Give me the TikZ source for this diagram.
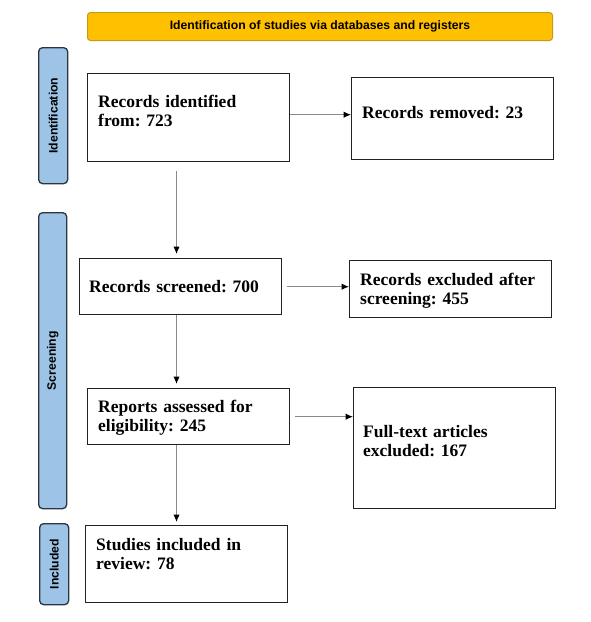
\documentclass[tikz,border=0pt]{standalone}
\usepackage{fontspec}
\setmainfont{Liberation Serif}
\setsansfont{Liberation Sans}
\usetikzlibrary{arrows.meta,positioning}
\definecolor{gold}{HTML}{FFC000}
\definecolor{goldedge}{HTML}{C49A1A}
\definecolor{sideblue}{HTML}{9DC3E6}
\definecolor{sideedge}{HTML}{2B3440}
\definecolor{boxedge}{HTML}{222222}
\definecolor{linegray}{HTML}{8A8A8A}
\frenchspacing
\begin{document}
\begin{tikzpicture}[x=1pt,y=-1pt,
  flowbox/.style={draw=boxedge,line width=1.4pt,fill=white,inner sep=0pt,anchor=north west},
  boxtext/.style={font=\bfseries\fontsize{17.5}{19.5}\selectfont,inner sep=0pt,anchor=base west,align=left,text width=#1},
  sidebox/.style={draw=sideedge,line width=1.3pt,fill=sideblue,rounded corners=4pt,inner sep=0pt,anchor=north west},
  sidetext/.style={font=\sffamily\bfseries\fontsize{12.2}{14}\selectfont,rotate=90,inner sep=0pt},
  arr/.style={draw=linegray,line width=1pt,-{Latex[color=black,length=7.5pt,width=6.5pt]}}
]
\useasboundingbox[fill=white] (0,0) rectangle (590,622);

% banner
\node[draw=goldedge,line width=1pt,fill=gold,rounded corners=3pt,anchor=north west,
      minimum width=465pt,minimum height=28pt,inner sep=0pt,
      font=\sffamily\bfseries\fontsize{12.2}{14}\selectfont] (banner) at (87,12)
      {Identification of studies via databases and registers};

% side labels
\node[sidebox,minimum width=29pt,minimum height=136pt] (sid) at (38,47) {};
\node[sidetext] (sidt) at (sid.center) {Identification};
\node[sidebox,minimum width=28pt,minimum height=296pt] (ssc) at (38,212) {};
\node[sidetext] (ssct) at (ssc.center) {Screening};
\node[sidebox,minimum width=29pt,minimum height=81pt] (sin) at (39,523) {};
\node[sidetext] (sint) at (sin.center) {Included};

% boxes
\node[flowbox,minimum width=202pt,minimum height=88pt] (b1) at (87,73) {};
\node[boxtext=185pt] (b1t) at (98,107) {Records identified\\from: 723};

\node[flowbox,minimum width=202pt,minimum height=82pt] (b2) at (351,77) {};
\node[boxtext=185pt] (b2t) at (362,118) {Records removed: 23};

\node[flowbox,minimum width=202pt,minimum height=56pt] (b3) at (79,258) {};
\node[boxtext=185pt] (b3t) at (89,292) {Records screened: 700};

\node[flowbox,minimum width=202pt,minimum height=57pt] (b5) at (349,260) {};
\node[boxtext=190pt] (b5t) at (360,285) {Records excluded after\\screening: 455};

\node[flowbox,minimum width=202pt,minimum height=56pt] (b4) at (87,388) {};
\node[boxtext=190pt] (b4t) at (98,412) {Reports assessed for\\eligibility: 245};

\node[flowbox,minimum width=202pt,minimum height=121pt] (b6) at (353,387) {};
\node[boxtext=185pt] (b6t) at (363,437) {Full-text articles\\excluded: 167};

\node[flowbox,minimum width=202pt,minimum height=77pt] (b7) at (85,525) {};
\node[boxtext=185pt] (b7t) at (96,550) {Studies included in\\review: 78};

% connectors
\coordinate (vx) at (176.5,0);
\draw[arr] ([yshift=3pt]b1.east) -- ([yshift=3pt]b1.east -| b2.west);
\draw[arr] ([xshift=5pt]b3.east) -- (b3.east -| b5.west);
\draw[arr] ([xshift=5pt]b4.east) -- (b4.east -| b6.west);
\draw[arr] ([yshift=-9pt]b1.south -| vx) -- ([yshift=4pt]b3.north -| vx);
\draw[arr] (b3.south -| vx) -- ([yshift=4pt]b4.north -| vx);
\draw[arr] (b4.south -| vx) -- ([yshift=3pt]b7.north -| vx);
\end{tikzpicture}
\end{document}
